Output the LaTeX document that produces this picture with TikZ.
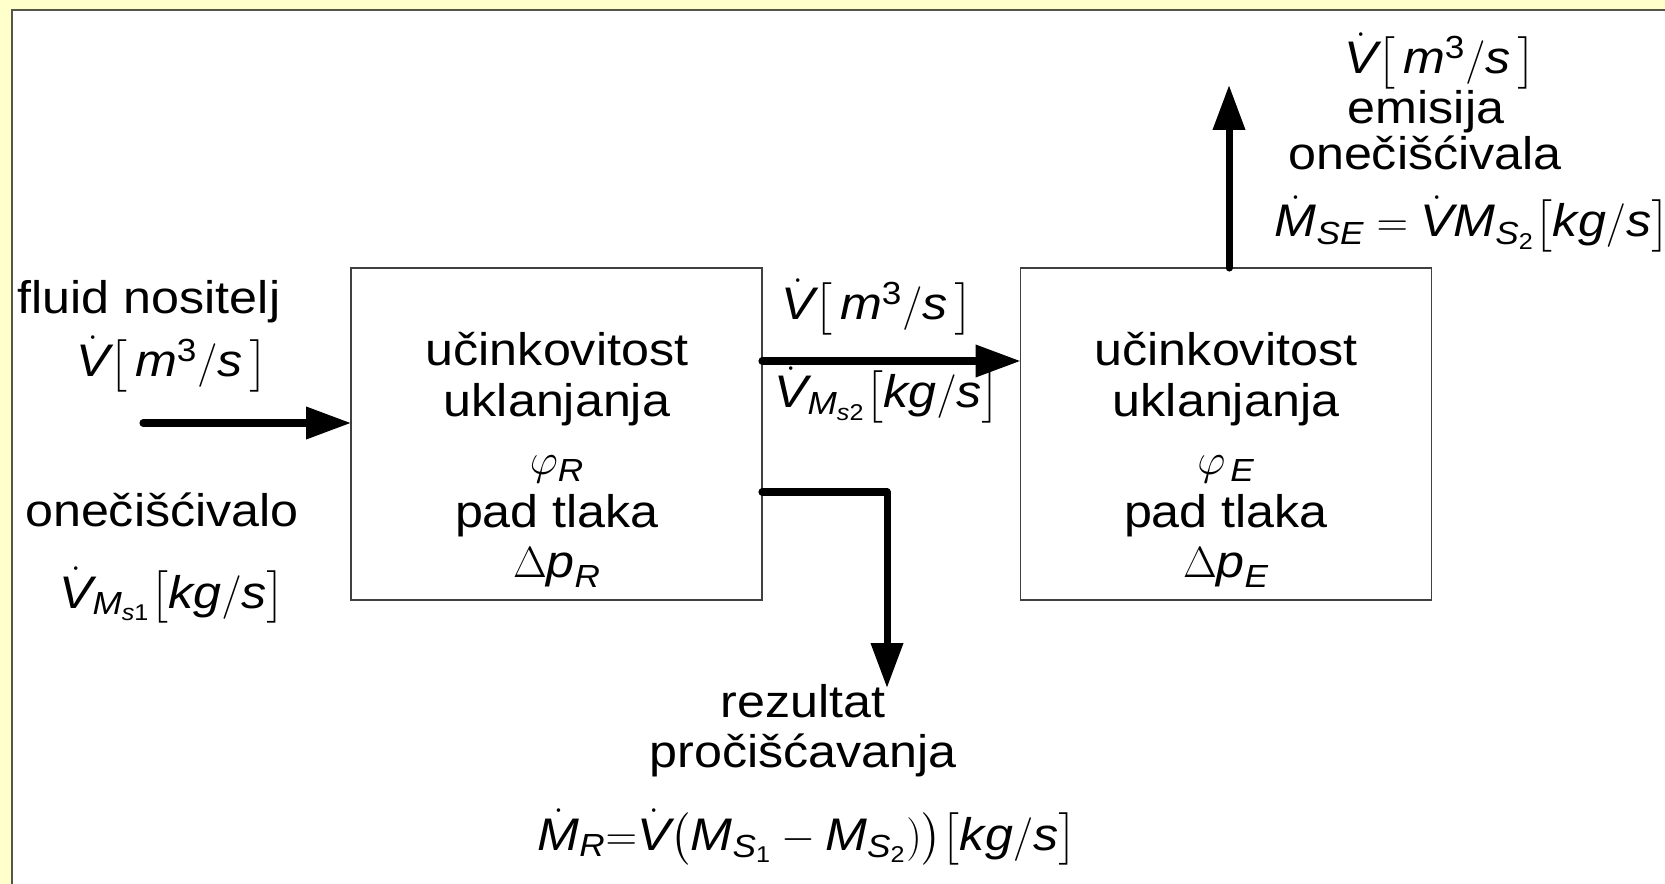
\documentclass[tikz,border=0pt]{standalone}
\usepackage{amsmath}
\usepackage{fontspec}
\setmainfont{Liberation Sans}[FakeStretch=1.1]
\usetikzlibrary{arrows.meta}

\definecolor{pozadina}{HTML}{FFFFCC}
\definecolor{rub}{HTML}{55554C}
\newcommand{\kv}[1]{\textit{#1}}
\newcommand{\protok}{\dot{\kv{V}}}
\newcommand{\kgs}{\bigl[\kv{kg}/\kv{s}\bigr]}
\newcommand{\mtri}{\bigl[\,\kv{m}^{\text{3}}/\kv{s}\,\bigr]}

\tikzset{
  tok/.style={line width=4pt, line cap=round, line join=round,
    -{Triangle[length=0.9cm,width=0.62cm]}},
  blok/.style={draw=black!75, line width=0.8pt, outer sep=0pt,
    minimum width=8.22cm, minimum height=6.64cm}
}

\begin{document}
\begin{tikzpicture}[x=0.02cm,y=-0.02cm]

  % okvir slajda
  \useasboundingbox (0,0) rectangle (1665,884);
  \fill[pozadina] (0,0) rectangle (1665,884);
  \fill[white] (12,10) rectangle (1665,884);
  \draw[rub, line width=1.2pt] (12,884) -- (12,10) -- (1665,10);

  % filtri
  \node[blok] (R) at (556.5,434) {};
  \node[blok] (E) at (1226,434) {};

  \begin{scope}[every node/.style={anchor=base, inner sep=0pt,
      font=\fontsize{26}{30}\selectfont}]
    % ulaz
    \node (fluid)    at (149,314) {fluid nositelj};
    \node (fluidV)   at (172,377) {$\protok\mtri$};
    \node (onecisc)  at (162,526) {onečišćivalo};
    \node (onecV)    at (172,608) {$\protok_{\kv{M}_{\kv{s}\text{1}}}\kgs$};

    % prvi filtar
    \node (R1) at (557,366) {učinkovitost};
    \node (R2) at (557,417) {uklanjanja};
    \node (R3) at (557,475) {$\varphi_{\kv{R}}$};
    \node (R4) at (557,527) {pad tlaka};
    \node (R5) at (557,577) {$\Delta\kv{p}_{\kv{R}}$};

    % drugi filtar
    \node (E1) at (1226,366) {učinkovitost};
    \node (E2) at (1226,417) {uklanjanja};
    \node (E3) at (1226,475) {$\varphi_{\,\kv{E}}$};
    \node (E4) at (1226,527) {pad tlaka};
    \node (E5) at (1226,577) {$\Delta\kv{p}_{\kv{E}}$};

    % izmedju filtara
    \node (sredV)  at (877,320) {$\protok\mtri$};
    \node (sredM)  at (887,408) {$\protok_{\kv{M}_{\kv{s}\text{2}}}\kgs$};

    % emisija
    \node (emisV)  at (1440,74)  {$\protok\mtri$};
    \node (emis1)  at (1426,124) {emisija};
    \node (emis2)  at (1425,170) {onečišćivala};
    \node (emisM)  at (1472,237)
      {$\dot{\kv{M}}_{\kv{SE}}=\protok\kv{M}_{\kv{S}_{\text{2}}}\kgs$};

    % rezultat
    \node (rez1)   at (803,717) {rezultat};
    \node (rez2)   at (803,767) {pročišćavanja};
    \node (rezM)   at (807,850)
      {$\dot{\kv{M}}_{\kv{R}}{=}\protok\bigl(\kv{M}_{\kv{S}_{\text{1}}}-\kv{M}_{\kv{S}_{\text{2}}})\bigr)\kgs$};
  \end{scope}

  % tokovi
  \coordinate (ulaz)   at (143,423);
  \coordinate (sred)   at (0,361);
  \coordinate (odvod)  at (0,492);
  \coordinate (talog)  at (887,688);
  \coordinate (izlaz)  at (1229,85);

  \draw[tok] (ulaz) -- (ulaz -| R.west);
  \draw[tok] (R.east |- sred) -- (E.west |- sred);
  \draw[tok] (R.east |- odvod) -| (talog);
  \draw[tok] (E.north -| izlaz) -- (izlaz);

\end{tikzpicture}
\end{document}
